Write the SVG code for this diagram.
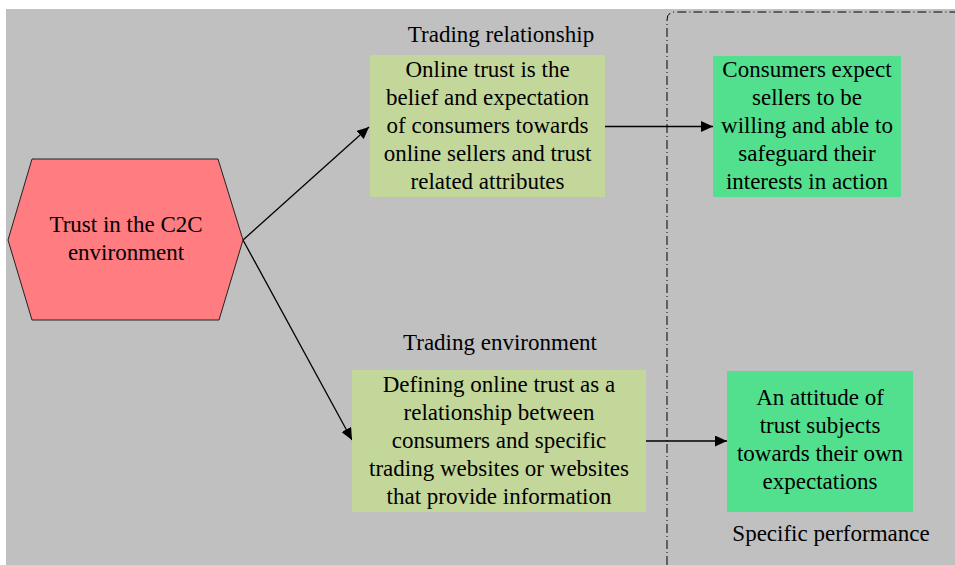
<svg xmlns="http://www.w3.org/2000/svg" width="955" height="565" viewBox="0 0 955 565">
  <defs>
    <marker id="arrow" viewBox="0 0 12 11" refX="12" refY="5.5" markerWidth="12" markerHeight="11" markerUnits="userSpaceOnUse" orient="auto">
      <polygon points="0,0 12,5.5 0,11" fill="#000"/>
    </marker>
    <style>
      .t { font-family: "Liberation Serif", "Times New Roman", serif; font-size: 23px; fill: #000; text-anchor: middle; }
      .def { fill: #c4d79b; }
      .res { fill: #52e08e; }
      .conn { stroke: #000; stroke-width: 1.3; fill: none; marker-end: url(#arrow); }
    </style>
  </defs>

  <!-- canvas -->
  <rect x="6" y="9" width="949" height="556" fill="#c0c0c0"/>

  <!-- dash-dot frame around the performance column -->
  <path d="M667,565 V20 Q667,12 675,12 H955" fill="none" stroke="#000" stroke-width="1" stroke-dasharray="9 3 1 3"/>

  <g id="connectors">
    <line class="conn" x1="243" y1="240" x2="369" y2="127"/>
    <line class="conn" x1="243" y1="240" x2="352" y2="440"/>
    <line class="conn" x1="605" y1="126.5" x2="713" y2="126.5"/>
    <line class="conn" x1="646" y1="441" x2="727" y2="441"/>
  </g>

  <g id="trust-c2c">
    <polygon points="8,240 32,159 218,159 243,240 219,320 32,320" fill="#ff7c80" stroke="#222" stroke-width="1"/>
    <text class="t" x="126" y="232">Trust in the C2C</text>
    <text class="t" x="126" y="260">environment</text>
  </g>

  <g id="label-relationship">
    <text class="t" x="501" y="42">Trading relationship</text>
  </g>

  <g id="online-trust-belief">
    <rect class="def" x="370" y="55" width="235" height="142"/>
    <text class="t" x="487.5" y="77">Online trust is the</text>
    <text class="t" x="487.5" y="105">belief and expectation</text>
    <text class="t" x="487.5" y="133">of consumers towards</text>
    <text class="t" x="487.5" y="161">online sellers and trust</text>
    <text class="t" x="487.5" y="189">related attributes</text>
  </g>

  <g id="consumers-expect">
    <rect class="res" x="713" y="56" width="188" height="141"/>
    <text class="t" x="807" y="77">Consumers expect</text>
    <text class="t" x="807" y="105">sellers to be</text>
    <text class="t" x="807" y="133">willing and able to</text>
    <text class="t" x="807" y="161">safeguard their</text>
    <text class="t" x="807" y="189">interests in action</text>
  </g>

  <g id="label-environment">
    <text class="t" x="500" y="350">Trading environment</text>
  </g>

  <g id="online-trust-relationship">
    <rect class="def" x="352" y="370" width="294" height="142"/>
    <text class="t" x="499" y="392">Defining online trust as a</text>
    <text class="t" x="499" y="420">relationship between</text>
    <text class="t" x="499" y="448">consumers and specific</text>
    <text class="t" x="499" y="476">trading websites or websites</text>
    <text class="t" x="499" y="504">that provide information</text>
  </g>

  <g id="attitude">
    <rect class="res" x="727" y="371" width="186" height="141"/>
    <text class="t" x="820" y="405">An attitude of</text>
    <text class="t" x="820" y="433">trust subjects</text>
    <text class="t" x="820" y="461">towards their own</text>
    <text class="t" x="820" y="489">expectations</text>
  </g>

  <g id="label-performance">
    <text class="t" x="831" y="541">Specific performance</text>
  </g>
</svg>
